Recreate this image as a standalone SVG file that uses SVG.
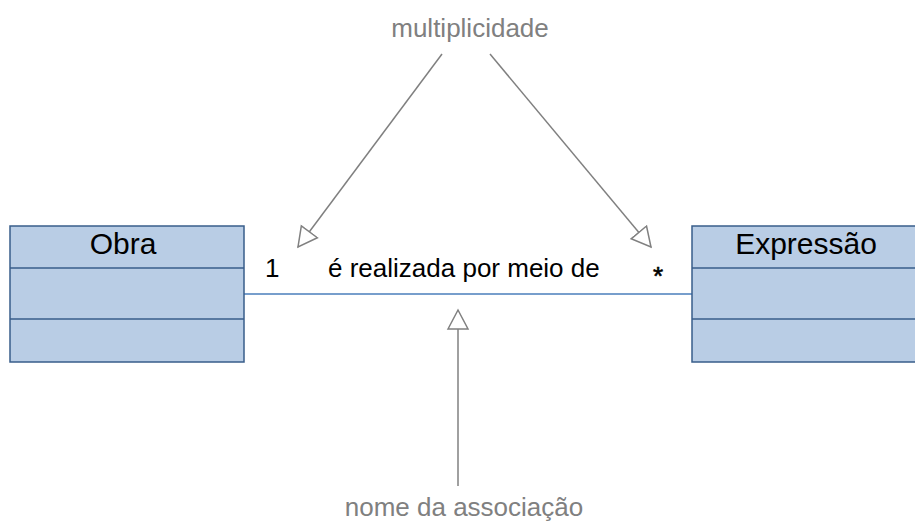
<svg xmlns="http://www.w3.org/2000/svg" width="915" height="523" viewBox="0 0 915 523">
<defs>
<style>
.box{fill:#b9cde5;stroke:#385d8a;stroke-width:1.5}
.div{stroke:#385d8a;stroke-width:1.5}
.title{font-family:"Liberation Sans",Arial,sans-serif;font-size:30px;fill:#000;text-anchor:middle}
.lbl{font-family:"Liberation Sans",Arial,sans-serif;font-size:26px;fill:#000}
.note{font-family:"Liberation Sans",Arial,sans-serif;font-size:26px;fill:#808080;text-anchor:middle}
.assoc{stroke:#4a7ebb;stroke-width:1.5;fill:none}
.ptr{stroke:#808080;stroke-width:1.5;fill:none}
</style>
<marker id="hollow" markerUnits="userSpaceOnUse" markerWidth="22" markerHeight="24" viewBox="-1 -11 22 22" refX="19" refY="0" orient="auto">
<path d="M0,-10 L19,0 L0,10 Z" fill="#fff" stroke="#808080" stroke-width="1.5"/>
</marker>
</defs>
<rect width="915" height="523" fill="#fff"/>
<g id="connectors">
<line class="assoc" x1="244" y1="294" x2="692" y2="294"/>
<line class="ptr" x1="442" y1="54" x2="298" y2="247" marker-end="url(#hollow)"/>
<line class="ptr" x1="490" y1="54" x2="651" y2="247" marker-end="url(#hollow)"/>
<line class="ptr" x1="458" y1="486" x2="458" y2="310" marker-end="url(#hollow)"/>
</g>
<g id="obra">
<rect class="box" x="10" y="226" width="234" height="136"/>
<line class="div" x1="10" y1="268" x2="244" y2="268"/>
<line class="div" x1="10" y1="319" x2="244" y2="319"/>
<text class="title" x="123" y="254">Obra</text>
</g>
<g id="expressao">
<rect class="box" x="692" y="226" width="240" height="136"/>
<line class="div" x1="692" y1="268" x2="932" y2="268"/>
<line class="div" x1="692" y1="319" x2="932" y2="319"/>
<text class="title" x="806" y="254">Expressão</text>
</g>
<g id="labels">
<text class="lbl" x="265" y="277">1</text>
<text class="lbl" x="328" y="277">é realizada por meio de</text>
<text class="lbl" x="653" y="285" stroke="#000" stroke-width="0.6">*</text>
</g>
<g id="note-multiplicidade">
<text class="note" x="470" y="37">multiplicidade</text>
</g>
<g id="note-nome">
<text class="note" x="464" y="516">nome da associação</text>
</g>
</svg>
